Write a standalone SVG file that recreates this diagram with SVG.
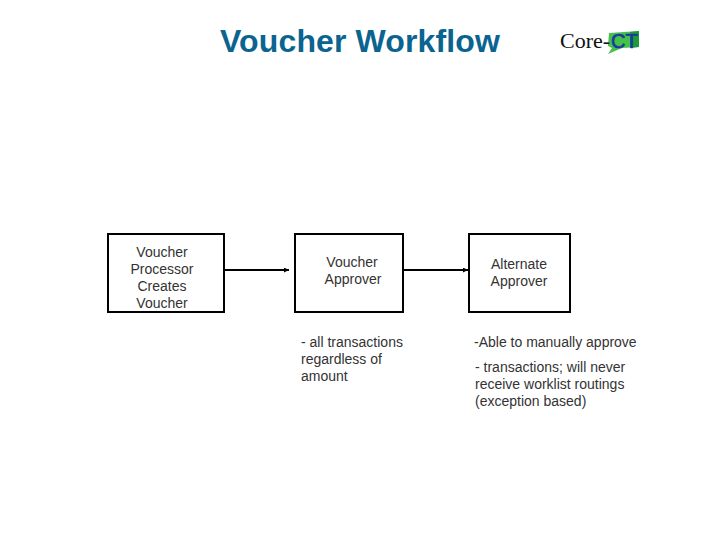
<svg xmlns="http://www.w3.org/2000/svg" width="720" height="540" viewBox="0 0 720 540">
<defs>
<marker id="arrow" viewBox="0 0 4 4" refX="4" refY="2" markerWidth="5" markerHeight="5" markerUnits="userSpaceOnUse" orient="auto"><path d="M0 0L4 2L0 4Z" fill="#000"/></marker>
</defs>
<style>
text{font-family:"Liberation Sans",Arial,sans-serif;font-size:14px;fill:#333}
.c{text-anchor:middle}
.box{fill:#fff;stroke:#000;stroke-width:2}
.conn{stroke:#000;stroke-width:2;fill:none;marker-end:url(#arrow)}
.title{font-size:32px;font-weight:bold;fill:#0b6490;letter-spacing:.13px}
</style>
<rect width="720" height="540" fill="#fff"/>
<text class="title" x="220" y="52">Voucher Workflow</text>
<g id="logo">
<path d="M609 33L639 31L639 47L622 48L608 54L612 48L608 46Z" fill="#45c04a"/>
<path d="M630 32L639 31L639 47L630 48Z" fill="#1f9a3a"/>
<text x="560" y="48" style="font-family:'Liberation Serif',serif;font-size:22px;fill:#111">Core-</text>
<text x="611" y="48" style="font-size:20px;fill:#1a3aa0;stroke:#1a3aa0;stroke-width:.7">CT</text>
</g>
<g id="connectors">
<line class="conn" x1="222" y1="270" x2="289" y2="270"/>
<line class="conn" x1="403" y1="270" x2="468" y2="270"/>
</g>
<g id="node-processor">
<rect class="box" x="108" y="234" width="116" height="78"/>
<text class="c" x="162" y="257">Voucher</text>
<text class="c" x="162" y="274">Processor</text>
<text class="c" x="162" y="291">Creates</text>
<text class="c" x="162" y="308">Voucher</text>
</g>
<g id="node-approver">
<rect class="box" x="295" y="234" width="108" height="78"/>
<text class="c" x="352" y="267">Voucher</text>
<text class="c" x="353" y="284">Approver</text>
</g>
<g id="node-alternate">
<rect class="box" x="469" y="234" width="101" height="78"/>
<text class="c" x="519" y="269">Alternate</text>
<text class="c" x="519" y="286">Approver</text>
</g>
<g id="notes-approver">
<text x="301" y="347">- all transactions</text>
<text x="301" y="364">regardless of</text>
<text x="301" y="381">amount</text>
</g>
<g id="notes-alternate">
<text x="474" y="347">-Able to manually approve</text>
<text x="475" y="372">- transactions; will never</text>
<text x="475" y="389">receive worklist routings</text>
<text x="475" y="406">(exception based)</text>
</g>
</svg>
